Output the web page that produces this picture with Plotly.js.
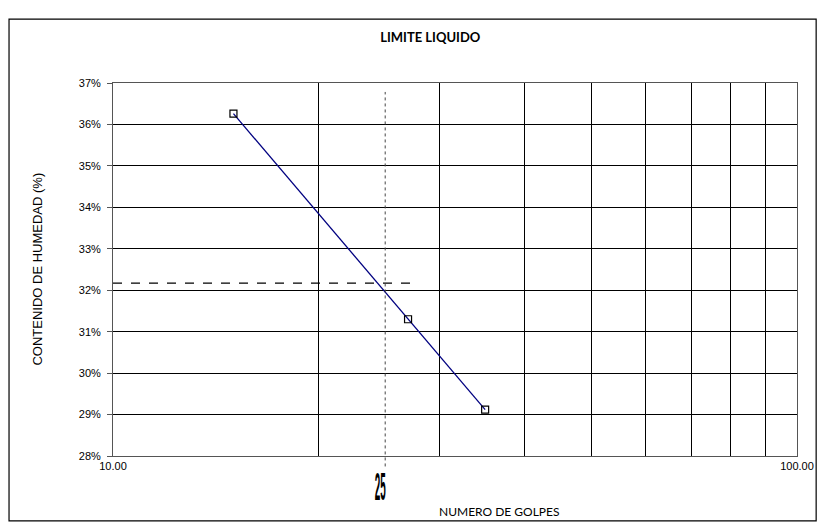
<!DOCTYPE html>
<html>
<head>
<meta charset="utf-8">
<script src="https://cdn.plot.ly/plotly-3.0.1.min.js"></script>
<style>html,body{margin:0;padding:0;background:#fff;}#chart{width:818px;height:522px;}</style>
</head>
<body>
<div id="chart"></div>
<script>
// Data
var golpes = [15, 27, 35];
var humedad = [36.26, 31.30, 29.12];
var llGolpes = [25];
var llHumedad = [32.17];
var llLineX = [10, 28];
var xTickVals = [10, 20, 30, 40, 50, 60, 70, 80, 90, 100];
var xTickText = ['10.00', '', '', '', '', '', '', '', '', '100.00'];
var yTickVals = [28, 29, 30, 31, 32, 33, 34, 35, 36, 37];
var yTickText = ['28%', '29%', '30%', '31%', '32%', '33%', '34%', '35%', '36%', '37%'];

var ARIAL = 'Arial';

var traces = [
  {
    x: llLineX, y: [llHumedad[0], llHumedad[0]],
    mode: 'lines', line: {color: '#000', width: 1.2, dash: 'dash'},
    hoverinfo: 'skip', showlegend: false
  },
  {
    x: golpes, y: humedad,
    mode: 'lines+markers',
    line: {color: '#000080', width: 1.3},
    marker: {symbol: 'square-open', size: 7, color: '#000', line: {width: 1.2}},
    showlegend: false
  }
];

var layout = {
  width: 818, height: 522,
  margin: {l: 113, r: 21, t: 83, b: 66},
  paper_bgcolor: '#fff', plot_bgcolor: '#fff',
  font: {family: ARIAL, size: 11, color: '#000'},
  title: {text: '<b>LIMITE LIQUIDO</b>', font: {family: 'Lato', size: 13, color: '#000'},
          x: 0.526, xanchor: 'center', y: 0.928, yanchor: 'middle'},
  xaxis: {
    type: 'log', range: [1, 2],
    tickvals: xTickVals, ticktext: xTickText,
    showgrid: true, gridcolor: '#000', gridwidth: 1,
    zeroline: false, showline: true, linecolor: '#555', linewidth: 1, mirror: true,
    ticks: '', ticklen: 0,
    tickfont: {family: ARIAL, size: 11, color: '#000'}
  },
  yaxis: {
    range: [28, 37],
    tickvals: yTickVals, ticktext: yTickText,
    showgrid: true, gridcolor: '#000', gridwidth: 1,
    zeroline: false, showline: true, linecolor: '#555', linewidth: 1, mirror: true,
    ticks: 'outside', ticklen: 5, tickcolor: '#555', ticklabelstandoff: 4,
    tickfont: {family: ARIAL, size: 11, color: '#000'}
  },
  shapes: [
    {type: 'rect', xref: 'paper', yref: 'paper', x0: -0.152, x1: 1.028, y0: -0.174, y1: 1.171,
     line: {color: '#000', width: 1.2}, fillcolor: 'rgba(0,0,0,0)', layer: 'below'},
    {type: 'line', xref: 'x', yref: 'paper', x0: llGolpes[0], x1: llGolpes[0], y0: -0.028, y1: 0.976,
     line: {color: '#444', width: 1, dash: 'dot'}}
  ],
  annotations: [
    {text: 'NUMERO DE GOLPES', xref: 'paper', yref: 'paper', x: 0.565, y: -0.148,
     xanchor: 'center', yanchor: 'middle', showarrow: false,
     font: {family: 'Lato', size: 12, color: '#000'}},
    {text: 'CONTENIDO DE HUMEDAD (%)', xref: 'paper', yref: 'paper', x: -0.111, y: 0.5,
     xanchor: 'center', yanchor: 'middle', showarrow: false, textangle: -90,
     font: {family: ARIAL, size: 13, color: '#000'}},
    {text: String(llGolpes[0]), xref: 'x', yref: 'paper', x: Math.log10(llGolpes[0]), y: -0.081,
     xanchor: 'center', yanchor: 'middle', showarrow: false,
     font: {family: ARIAL, size: 22, color: '#000', weight: 'bold'}}
  ]
};

Plotly.newPlot('chart', traces, layout, {displayModeBar: false, staticPlot: true}).then(function () {
  // render the "25" label in a tall condensed style like the original
  var texts = document.querySelectorAll('.annotation-text');
  texts.forEach(function (t) {
    if (t.textContent === String(llGolpes[0])) {
      var bb = t.getBBox();
      var cx = bb.x + bb.width / 2, cy = bb.y + bb.height / 2;
      var prev = t.getAttribute('transform') || '';
      t.setAttribute('transform', prev + ' translate(' + (cx - 5) + ',' + cy + ') scale(0.45,1.8) translate(' + (-cx) + ',' + (-cy) + ')');
    }
  });
});
</script>
</body>
</html>
